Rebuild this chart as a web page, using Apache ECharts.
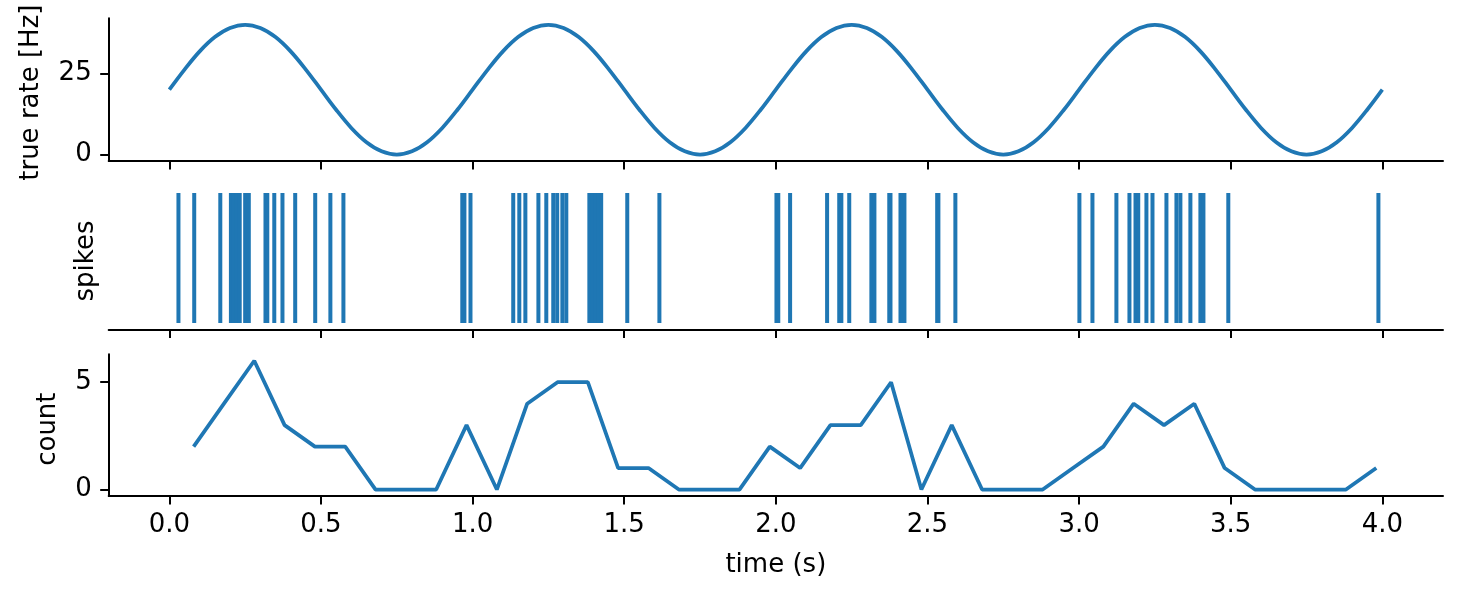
<!DOCTYPE html>
<html>
<head>
<meta charset="utf-8">
<script src="https://cdn.jsdelivr.net/npm/echarts@6/dist/echarts.min.js"></script>
<style>
  html, body { margin: 0; padding: 0; background: #fff; }
  #main { width: 1462px; height: 598px; }
</style>
</head>
<body>
<div id="main"></div>
<script>
// 数据
const rateTimes = [
  0.00, 0.05, 0.10, 0.15, 0.20, 0.25, 0.30, 0.35, 0.40, 0.45,
  0.50, 0.55, 0.60, 0.65, 0.70, 0.75, 0.80, 0.85, 0.90, 0.95,
  1.00, 1.05, 1.10, 1.15, 1.20, 1.25, 1.30, 1.35, 1.40, 1.45,
  1.50, 1.55, 1.60, 1.65, 1.70, 1.75, 1.80, 1.85, 1.90, 1.95,
  2.00, 2.05, 2.10, 2.15, 2.20, 2.25, 2.30, 2.35, 2.40, 2.45,
  2.50, 2.55, 2.60, 2.65, 2.70, 2.75, 2.80, 2.85, 2.90, 2.95,
  3.00, 3.05, 3.10, 3.15, 3.20, 3.25, 3.30, 3.35, 3.40, 3.45,
  3.50, 3.55, 3.60, 3.65, 3.70, 3.75, 3.80, 3.85, 3.90, 3.95,
  4.00
]
const rateValues = [
  20, 26.2, 31.8, 36.2, 39.0, 40, 39.0, 36.2, 31.8, 26.2,
  20, 13.8, 8.2, 3.8, 1.0, 0, 1.0, 3.8, 8.2, 13.8,
  20, 26.2, 31.8, 36.2, 39.0, 40, 39.0, 36.2, 31.8, 26.2,
  20, 13.8, 8.2, 3.8, 1.0, 0, 1.0, 3.8, 8.2, 13.8,
  20, 26.2, 31.8, 36.2, 39.0, 40, 39.0, 36.2, 31.8, 26.2,
  20, 13.8, 8.2, 3.8, 1.0, 0, 1.0, 3.8, 8.2, 13.8,
  20, 26.2, 31.8, 36.2, 39.0, 40, 39.0, 36.2, 31.8, 26.2,
  20, 13.8, 8.2, 3.8, 1.0, 0, 1.0, 3.8, 8.2, 13.8,
  20
]

const spikeTimes = [
  0.030, 0.082, 0.168, 0.203, 0.212, 0.221, 0.232, 0.250, 0.256, 0.262,
  0.317, 0.323, 0.346, 0.373, 0.415, 0.481, 0.531, 0.574,
  0.966, 0.973, 0.993, 1.134, 1.154, 1.174, 1.217, 1.243, 1.266, 1.279,
  1.296, 1.309, 1.385, 1.395, 1.404, 1.414, 1.424, 1.510, 1.616,
  2.002, 2.008, 2.047, 2.169, 2.209, 2.216, 2.242, 2.315, 2.325, 2.374,
  2.378, 2.411, 2.417, 2.424, 2.532, 2.536, 2.592,
  3.001, 3.044, 3.123, 3.166, 3.186, 3.195, 3.222, 3.242, 3.288, 3.321,
  3.334, 3.367, 3.400, 3.410, 3.492, 3.987
]

const countTimes = [
  0.08, 0.18, 0.28, 0.38, 0.48, 0.58, 0.68, 0.78, 0.88, 0.98,
  1.08, 1.18, 1.28, 1.38, 1.48, 1.58, 1.68, 1.78, 1.88, 1.98,
  2.08, 2.18, 2.28, 2.38, 2.48, 2.58, 2.68, 2.78, 2.88, 2.98,
  3.08, 3.18, 3.28, 3.38, 3.48, 3.58, 3.68, 3.78, 3.88, 3.98
]
const countValues = [
  2, 4, 6, 3, 2, 2, 0, 0, 0, 3,
  0, 4, 5, 5, 1, 1, 0, 0, 0, 2,
  1, 3, 3, 5, 0, 3, 0, 0, 0, 1,
  2, 4, 3, 4, 1, 0, 0, 0, 0, 1
]

const xTicks = [0, 0.5, 1, 1.5, 2, 2.5, 3, 3.5, 4]
const rateTicks = [0, 25]
const countTicks = [0, 5]

// 样式
const blue = '#1f77b4'
const font = 'DejaVu Sans'
const fontSize = 26
const lw = 2

function xAxis(gridIndex, showLabel, name) {
  return {
    type: 'value',
    gridIndex: gridIndex,
    min: -0.2,
    max: 4.2,
    name: name || '',
    nameLocation: 'middle',
    nameGap: 56,
    nameTextStyle: { fontFamily: font, fontSize: fontSize, color: '#000' },
    splitLine: { show: false },
    axisLine: { show: true, onZero: false, lineStyle: { color: '#000', width: lw } },
    axisTick: { show: true, length: 8.5, customValues: xTicks, lineStyle: { color: '#000', width: lw } },
    axisLabel: {
      show: showLabel,
      customValues: xTicks,
      margin: 16,
      fontFamily: font,
      fontSize: fontSize,
      color: '#000',
      formatter: v => v.toFixed(1)
    }
  }
}

function yAxis(gridIndex, min, max, ticks, name, gap, shift) {
  return {
    type: 'value',
    gridIndex: gridIndex,
    min: min,
    max: max,
    name: name,
    nameLocation: 'middle',
    nameGap: gap,
    nameRotate: 90,
    // 右侧 padding 让竖排标题略微下移, 和原图对齐
    nameTextStyle: { fontFamily: font, fontSize: fontSize, color: '#000', padding: [0, shift, 0, 0] },
    splitLine: { show: false },
    axisLine: { show: ticks.length > 0, onZero: false, lineStyle: { color: '#000', width: lw } },
    axisTick: { show: ticks.length > 0, length: 8.5, customValues: ticks, lineStyle: { color: '#000', width: lw } },
    axisLabel: {
      show: ticks.length > 0,
      customValues: ticks,
      margin: 17,
      padding: [4, 0, 0, 0],
      fontFamily: font,
      fontSize: fontSize,
      color: '#000'
    }
  }
}

const chart = echarts.init(document.getElementById('main'), null, { width: 1462, height: 598 })

chart.setOption({
  animation: false,
  backgroundColor: '#fff',
  grid: [
    { left: 108.7, right: 19, top: 18.3, height: 142.7 },
    { left: 108.7, right: 19, top: 186.5, height: 143 },
    { left: 108.7, right: 19, top: 354.3, height: 141.7 }
  ],
  xAxis: [
    xAxis(0, false),
    xAxis(1, false),
    xAxis(2, true, 'time (s)')
  ],
  yAxis: [
    yAxis(0, -2, 42, rateTicks, 'true rate [Hz]', 64, 6),
    yAxis(1, -0.55, 0.55, [], 'spikes', 9, 6),
    yAxis(2, -0.3, 6.3, countTicks, 'count', 47, 8)
  ],
  series: [
    {
      type: 'line',
      xAxisIndex: 0,
      yAxisIndex: 0,
      data: rateTimes.map((t, i) => [t, rateValues[i]]),
      smooth: 0.35,
      symbol: 'none',
      lineStyle: { color: blue, width: 3.75 }
    },
    {
      type: 'custom',
      xAxisIndex: 1,
      yAxisIndex: 1,
      data: spikeTimes.map(t => [t, 0]),
      encode: { x: 0, y: 1 },
      renderItem(params, api) {
        const t = api.value(0)
        const p0 = api.coord([t, -0.5])
        const p1 = api.coord([t, 0.5])
        return {
          type: 'line',
          shape: { x1: p0[0], y1: p0[1], x2: p1[0], y2: p1[1] },
          style: { stroke: blue, lineWidth: 4, lineCap: 'butt' }
        }
      }
    },
    {
      type: 'line',
      xAxisIndex: 2,
      yAxisIndex: 2,
      data: countTimes.map((t, i) => [t, countValues[i]]),
      symbol: 'none',
      lineStyle: { color: blue, width: 3.75 }
    }
  ]
})
</script>
</body>
</html>
